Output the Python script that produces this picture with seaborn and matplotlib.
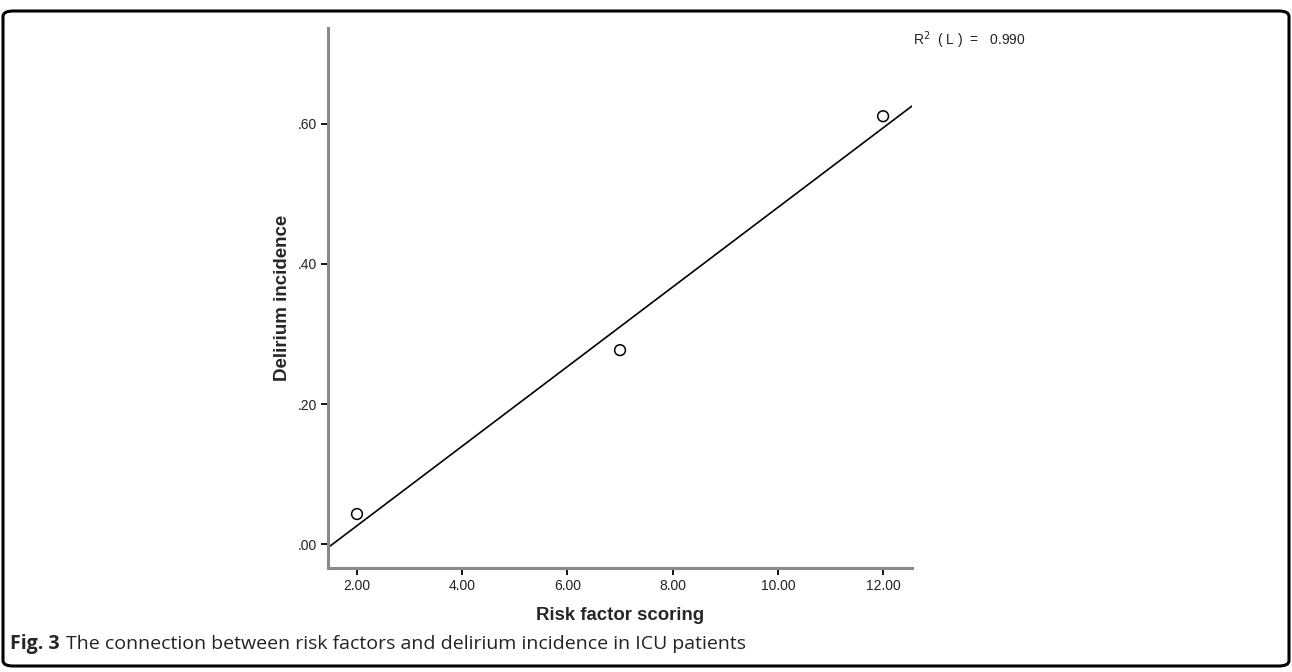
import numpy as np
import pandas as pd
import matplotlib
matplotlib.use("Agg")
import matplotlib.pyplot as plt
from matplotlib.patches import FancyBboxPatch
import seaborn as sns

# data
risk_score = [2.0, 7.0, 12.0]
delirium_incidence = [0.043, 0.277, 0.611]
x_ticks = [2.0, 4.0, 6.0, 8.0, 10.0, 12.0]
x_tick_labels = ["2.00", "4.00", "6.00", "8.00", "10.00", "12.00"]
y_ticks = [0.0, 0.2, 0.4, 0.6]
y_tick_labels = [".00", ".20", ".40", ".60"]
r2_label = "0.990"

sns.set_style("white")
plt.rcParams["font.family"] = ["Liberation Sans", "DejaVu Sans"]

df = pd.DataFrame({"score": risk_score, "incidence": delirium_incidence})

fig = plt.figure(figsize=(12.92, 6.72), dpi=100)
ax = fig.add_axes([0.2539, 0.1548, 0.452, 0.8036])

xlim = (1.45, 12.55)
ylim = (-0.034, 0.737)
ax.set_xlim(*xlim)
ax.set_ylim(*ylim)

# linear fit line across the plot
slope, intercept = np.polyfit(risk_score, delirium_incidence, 1)
fit_x = np.array(xlim)
fit_df = pd.DataFrame({"score": fit_x, "incidence": intercept + slope * fit_x})
sns.lineplot(data=fit_df, x="score", y="incidence", ax=ax, color="black", linewidth=1.2)

sns.scatterplot(data=df, x="score", y="incidence", ax=ax, s=60, marker="o",
                facecolor="none", edgecolor="black", linewidth=1.1, zorder=3)

ax.set_xlim(*xlim)
ax.set_ylim(*ylim)
ax.set_xticks(x_ticks)
ax.set_xticklabels(x_tick_labels, fontsize=10)
ax.set_yticks(y_ticks)
ax.set_yticklabels(y_tick_labels, fontsize=10)
ax.tick_params(axis="both", direction="out", length=5, width=1.3, color="black",
               bottom=True, left=True, pad=3, labelcolor="#222222")

for side in ["top", "right"]:
    ax.spines[side].set_visible(False)
for side in ["left", "bottom"]:
    ax.spines[side].set_color("#8a8a8a")
    ax.spines[side].set_linewidth(2.2)

ax.set_xlabel("Risk factor scoring", fontsize=13.4, fontweight="bold", labelpad=10)
ax.set_ylabel("Delirium incidence", fontsize=13.5, fontweight="bold", labelpad=5)

fig.text(913 / 1292, 1 - 40 / 672, r"R$^2$  ( L )  =   " + r2_label, fontsize=10,
         ha="left", va="center", color="#222222")

# caption
fig.text(10 / 1292, 1 - 644 / 672, "Fig. 3", fontsize=14, fontweight="bold",
         ha="left", va="center", family=["Open Sans", "DejaVu Sans"])
fig.text(66 / 1292, 1 - 644 / 672,
         "The connection between risk factors and delirium incidence in ICU patients",
         fontsize=14, ha="left", va="center", family=["Open Sans", "DejaVu Sans"],
         color="#222222")

# rounded border
border = FancyBboxPatch((3 / 1292, 6 / 672), 1286 / 1292, 655 / 672,
                        boxstyle="round,pad=0,rounding_size=0.008",
                        transform=fig.transFigure, fill=False, edgecolor="black",
                        linewidth=2.2, clip_on=False)
fig.add_artist(border)

fig.savefig("out.png", dpi=100)
